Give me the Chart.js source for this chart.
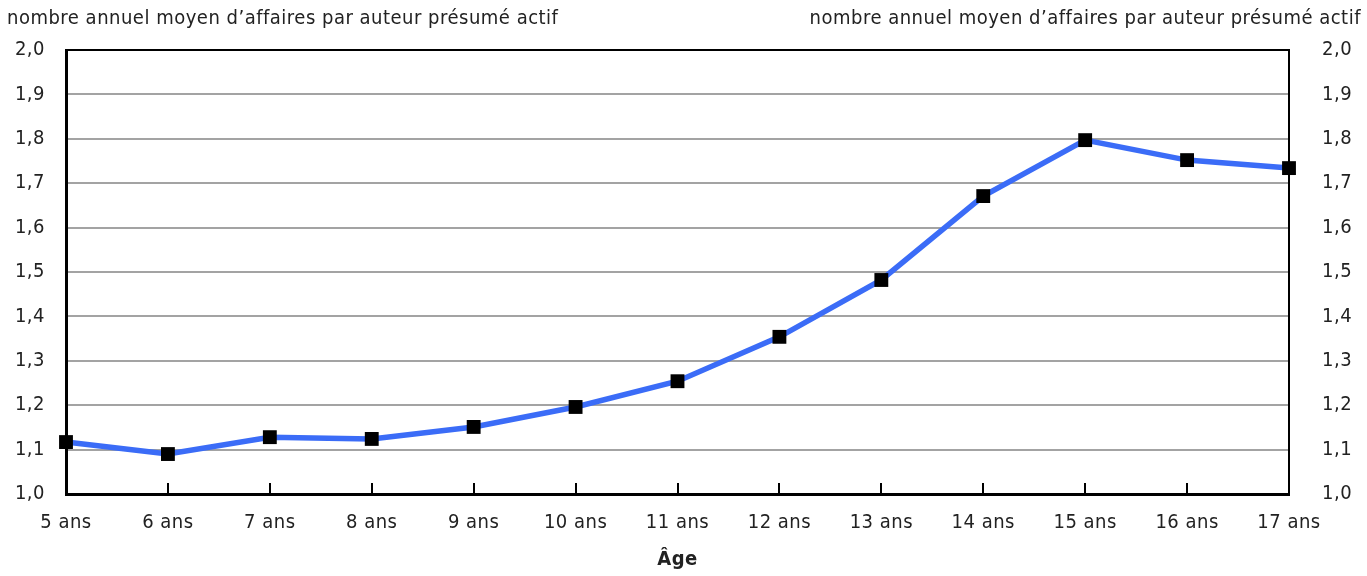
<!DOCTYPE html>
<html>
<head>
<meta charset="utf-8">
<script src="https://cdn.jsdelivr.net/npm/chart.js@4/dist/chart.umd.min.js"></script>
<style>
  html, body { margin: 0; padding: 0; background: #fff; }
  #wrap { width: 1367px; height: 576px; }
</style>
</head>
<body>
<div id="wrap"><canvas id="chart" width="1367" height="576"></canvas></div>
<script>
const ages = ["5 ans", "6 ans", "7 ans", "8 ans", "9 ans", "10 ans", "11 ans", "12 ans", "13 ans", "14 ans", "15 ans", "16 ans", "17 ans"];
const affaires = [1.117, 1.090, 1.128, 1.124, 1.151, 1.196, 1.254, 1.354, 1.482, 1.671, 1.797, 1.752, 1.734];
const yMin = 1.0, yMax = 2.0, yStep = 0.1;
const axisTitle = "nombre annuel moyen d\u2019affaires par auteur présumé actif";
const xTitle = "Âge";

const FONT = "'DejaVu Sans Condensed', sans-serif";
const SPACING = "0.5px";
const SIZE = 20;
Chart.defaults.font.family = FONT;
Chart.defaults.font.size = SIZE;
Chart.defaults.color = "#222";

const fmt = v => v.toFixed(1).replace(".", ",");

// letter spacing on the canvas, plus the two top titles and the inner tick marks
const decor = {
  id: "decor",
  beforeLayout(chart) { chart.ctx.letterSpacing = SPACING; },
  beforeDraw(chart) { chart.ctx.letterSpacing = SPACING; },
  afterDraw(chart) {
    const ctx = chart.ctx, area = chart.chartArea, x = chart.scales.x;
    ctx.save();
    ctx.letterSpacing = SPACING;
    ctx.font = SIZE + "px " + FONT;
    ctx.fillStyle = "#222";
    ctx.textBaseline = "middle";
    ctx.textAlign = "left";
    ctx.fillText(axisTitle, 7, 19);
    ctx.textAlign = "right";
    ctx.fillText(axisTitle, 1361, 19);
    ctx.strokeStyle = "#000";
    ctx.lineWidth = 2;
    ages.forEach((a, i) => {
      if (i === 0 || i === ages.length - 1) return;
      const px = Math.round(x.getPixelForValue(i));
      ctx.beginPath();
      ctx.moveTo(px, area.bottom);
      ctx.lineTo(px, area.bottom - 11);
      ctx.stroke();
    });
    ctx.restore();
  }
};

new Chart(document.getElementById("chart"), {
  type: "line",
  data: {
    labels: ages,
    datasets: [{
      data: affaires,
      borderColor: "#3b6cf7",
      borderWidth: 5.5,
      tension: 0,
      pointStyle: "rect",
      pointRadius: 9.8,
      pointBackgroundColor: "#000",
      pointBorderColor: "#000",
      pointBorderWidth: 0,
      clip: false
    }]
  },
  options: {
    responsive: false,
    animation: false,
    layout: { padding: { top: 50, left: 0, right: 0, bottom: 0 } },
    plugins: { legend: { display: false }, tooltip: { enabled: false } },
    scales: {
      x: {
        type: "category",
        offset: false,
        afterFit(s) { s.height = 82; },
        grid: { drawOnChartArea: false, drawTicks: false },
        border: { color: "#000", width: 3 },
        ticks: { padding: 17, maxRotation: 0, autoSkip: false, color: "#222" },
        title: { display: true, text: xTitle, font: { weight: "bold", size: SIZE }, color: "#222", padding: { top: 14 } }
      },
      y: {
        position: "left",
        min: yMin, max: yMax,
        afterFit(s) { s.width = 66; },
        grid: {
          drawTicks: false,
          color: c => c.tick.value >= yMax - 1e-9 ? "#000" : "#a3a3a3",
          lineWidth: 2
        },
        border: { color: "#000", width: 3 },
        ticks: { stepSize: yStep, padding: 21, callback: v => fmt(v), color: "#222" }
      },
      y2: {
        position: "right",
        min: yMin, max: yMax,
        afterFit(s) { s.width = 78; },
        grid: { drawOnChartArea: false, drawTicks: false },
        border: { color: "#000", width: 2 },
        ticks: { stepSize: yStep, padding: 33, callback: v => fmt(v), color: "#222" }
      }
    }
  },
  plugins: [decor]
});
</script>
</body>
</html>
